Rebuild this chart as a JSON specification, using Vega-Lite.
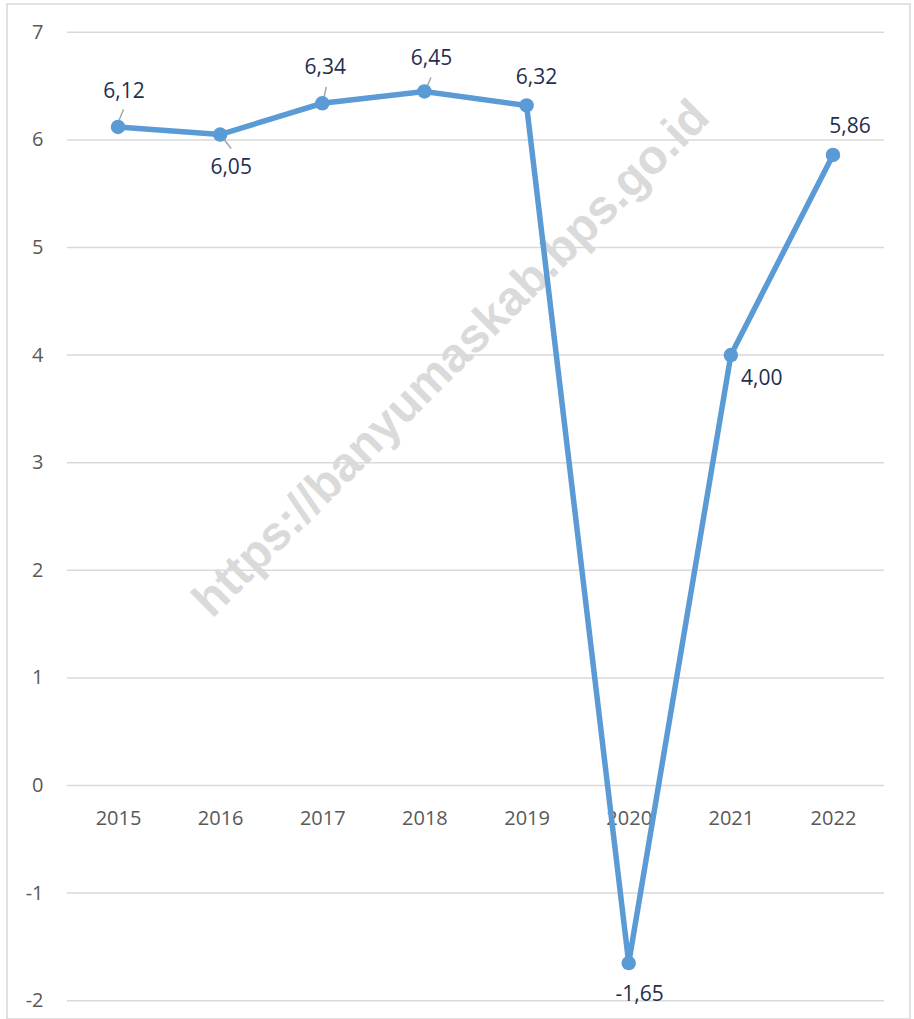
{
  "$schema": "https://vega.github.io/schema/vega-lite/v6.json",
  "width": 903,
  "height": 1015,
  "autosize": {"type": "none"},
  "padding": {"left": 7, "top": 4, "right": 4, "bottom": 0},
  "background": "white",
  "config": {
    "locale": {"number": {"decimal": ",", "thousands": ".", "grouping": [3], "currency": ["Rp", ""], "minus": "-"}},
    "view": {"stroke": "#d9d9d9", "strokeWidth": 1.5},
    "font": "Open Sans"
  },
  "data": {
    "values": [
      {"year": 2015, "growth": 6.12},
      {"year": 2016, "growth": 6.05},
      {"year": 2017, "growth": 6.34},
      {"year": 2018, "growth": 6.45},
      {"year": 2019, "growth": 6.32},
      {"year": 2020, "growth": -1.65},
      {"year": 2021, "growth": 4.00},
      {"year": 2022, "growth": 5.86}
    ]
  },
  "layer": [
    {
      "data": {"values": [{"g": -2}, {"g": -1}, {"g": 0}, {"g": 1}, {"g": 2}, {"g": 3}, {"g": 4}, {"g": 5}, {"g": 6}, {"g": 7}]},
      "mark": {"type": "rule", "color": "#d9d9d9", "strokeWidth": 1.5},
      "encoding": {
        "y": {"field": "g", "type": "quantitative", "title": null},
        "x": {"datum": 2014.5},
        "x2": {"datum": 2022.5}
      }
    },
    {
      "data": {"values": [{"wm": "https://banyumaskab.bps.go.id"}]},
      "mark": {"type": "text", "angle": -45, "fontSize": 48, "fontWeight": "bold", "font": "Liberation Sans", "color": "#dadada", "align": "center", "baseline": "middle"},
      "encoding": {
        "text": {"field": "wm"},
        "x": {"datum": 2018.27},
        "y": {"datum": 3.96}
      }
    },
    {"transform": [{"filter": "datum.year == 2015"}], "mark": {"type": "rule", "color": "#a6a6a6", "strokeWidth": 1.5, "xOffset": -0.5, "yOffset": -3, "x2Offset": 5.5, "y2Offset": -17.5}, "encoding": {"x": {"field": "year", "type": "quantitative", "title": null}, "y": {"field": "growth", "type": "quantitative", "title": null}, "x2": {"field": "year"}, "y2": {"field": "growth"}}},
    {"transform": [{"filter": "datum.year == 2016"}], "mark": {"type": "rule", "color": "#a6a6a6", "strokeWidth": 1.5, "xOffset": 0, "yOffset": 0, "x2Offset": 11, "y2Offset": 14}, "encoding": {"x": {"field": "year", "type": "quantitative", "title": null}, "y": {"field": "growth", "type": "quantitative", "title": null}, "x2": {"field": "year"}, "y2": {"field": "growth"}}},
    {"transform": [{"filter": "datum.year == 2017"}], "mark": {"type": "rule", "color": "#a6a6a6", "strokeWidth": 1.5, "xOffset": 0.5, "yOffset": 0, "x2Offset": 4, "y2Offset": -16.5}, "encoding": {"x": {"field": "year", "type": "quantitative", "title": null}, "y": {"field": "growth", "type": "quantitative", "title": null}, "x2": {"field": "year"}, "y2": {"field": "growth"}}},
    {"transform": [{"filter": "datum.year == 2018"}], "mark": {"type": "rule", "color": "#a6a6a6", "strokeWidth": 1.5, "xOffset": 0.5, "yOffset": 0, "x2Offset": 6.5, "y2Offset": -14}, "encoding": {"x": {"field": "year", "type": "quantitative", "title": null}, "y": {"field": "growth", "type": "quantitative", "title": null}, "x2": {"field": "year"}, "y2": {"field": "growth"}}},
    {
      "mark": {"type": "line", "color": "#5B9BD5", "strokeWidth": 5.5},
      "encoding": {
        "x": {
          "field": "year", "type": "quantitative", "title": null,
          "scale": {"domain": [2013.913, 2022.754], "nice": false, "zero": false},
          "axis": {"values": [2015, 2016, 2017, 2018, 2019, 2020, 2021, 2022], "format": "d", "grid": false, "domain": false, "ticks": false, "tickSize": 0, "offset": -233, "labelFontSize": 20, "labelColor": "#595959", "labelPadding": 22, "labelFont": "Open Sans", "labelFlush": false, "labelOverlap": false}
        },
        "y": {
          "field": "growth", "type": "quantitative", "title": null,
          "scale": {"domain": [-2.17, 7.263], "nice": false, "zero": false},
          "axis": {"values": [-2, -1, 0, 1, 2, 3, 4, 5, 6, 7], "format": "d", "grid": false, "domain": false, "ticks": false, "tickSize": 0, "offset": -40, "labelFontSize": 20, "labelColor": "#595959", "labelPadding": 4, "labelFont": "Open Sans", "labelFlush": false, "labelOverlap": false}
        }
      }
    },
    {
      "mark": {"type": "point", "filled": true, "opacity": 1, "color": "#5B9BD5", "size": 210},
      "encoding": {
        "x": {"field": "year", "type": "quantitative", "title": null},
        "y": {"field": "growth", "type": "quantitative", "title": null}
      }
    },
    {"transform": [{"filter": "datum.year == 2015"}], "mark": {"type": "text", "fontSize": 21, "color": "#1F2F4F", "align": "center", "baseline": "middle", "dx": 6, "dy": -35}, "encoding": {"x": {"field": "year", "type": "quantitative", "title": null}, "y": {"field": "growth", "type": "quantitative", "title": null}, "text": {"field": "growth", "type": "quantitative", "format": ".2f"}}},
    {"transform": [{"filter": "datum.year == 2016"}], "mark": {"type": "text", "fontSize": 21, "color": "#1F2F4F", "align": "center", "baseline": "middle", "dx": 11, "dy": 33}, "encoding": {"x": {"field": "year", "type": "quantitative", "title": null}, "y": {"field": "growth", "type": "quantitative", "title": null}, "text": {"field": "growth", "type": "quantitative", "format": ".2f"}}},
    {"transform": [{"filter": "datum.year == 2017"}], "mark": {"type": "text", "fontSize": 21, "color": "#1F2F4F", "align": "center", "baseline": "middle", "dx": 3, "dy": -35}, "encoding": {"x": {"field": "year", "type": "quantitative", "title": null}, "y": {"field": "growth", "type": "quantitative", "title": null}, "text": {"field": "growth", "type": "quantitative", "format": ".2f"}}},
    {"transform": [{"filter": "datum.year == 2018"}], "mark": {"type": "text", "fontSize": 21, "color": "#1F2F4F", "align": "center", "baseline": "middle", "dx": 7, "dy": -32}, "encoding": {"x": {"field": "year", "type": "quantitative", "title": null}, "y": {"field": "growth", "type": "quantitative", "title": null}, "text": {"field": "growth", "type": "quantitative", "format": ".2f"}}},
    {"transform": [{"filter": "datum.year == 2019"}], "mark": {"type": "text", "fontSize": 21, "color": "#1F2F4F", "align": "center", "baseline": "middle", "dx": 10, "dy": -27}, "encoding": {"x": {"field": "year", "type": "quantitative", "title": null}, "y": {"field": "growth", "type": "quantitative", "title": null}, "text": {"field": "growth", "type": "quantitative", "format": ".2f"}}},
    {"transform": [{"filter": "datum.year == 2020"}], "mark": {"type": "text", "fontSize": 21, "color": "#1F2F4F", "align": "center", "baseline": "middle", "dx": 11, "dy": 32}, "encoding": {"x": {"field": "year", "type": "quantitative", "title": null}, "y": {"field": "growth", "type": "quantitative", "title": null}, "text": {"field": "growth", "type": "quantitative", "format": ".2f"}}},
    {"transform": [{"filter": "datum.year == 2021"}], "mark": {"type": "text", "fontSize": 21, "color": "#1F2F4F", "align": "center", "baseline": "middle", "dx": 31, "dy": 24}, "encoding": {"x": {"field": "year", "type": "quantitative", "title": null}, "y": {"field": "growth", "type": "quantitative", "title": null}, "text": {"field": "growth", "type": "quantitative", "format": ".2f"}}},
    {"transform": [{"filter": "datum.year == 2022"}], "mark": {"type": "text", "fontSize": 21, "color": "#1F2F4F", "align": "center", "baseline": "middle", "dx": 17, "dy": -28}, "encoding": {"x": {"field": "year", "type": "quantitative", "title": null}, "y": {"field": "growth", "type": "quantitative", "title": null}, "text": {"field": "growth", "type": "quantitative", "format": ".2f"}}}
  ]
}
